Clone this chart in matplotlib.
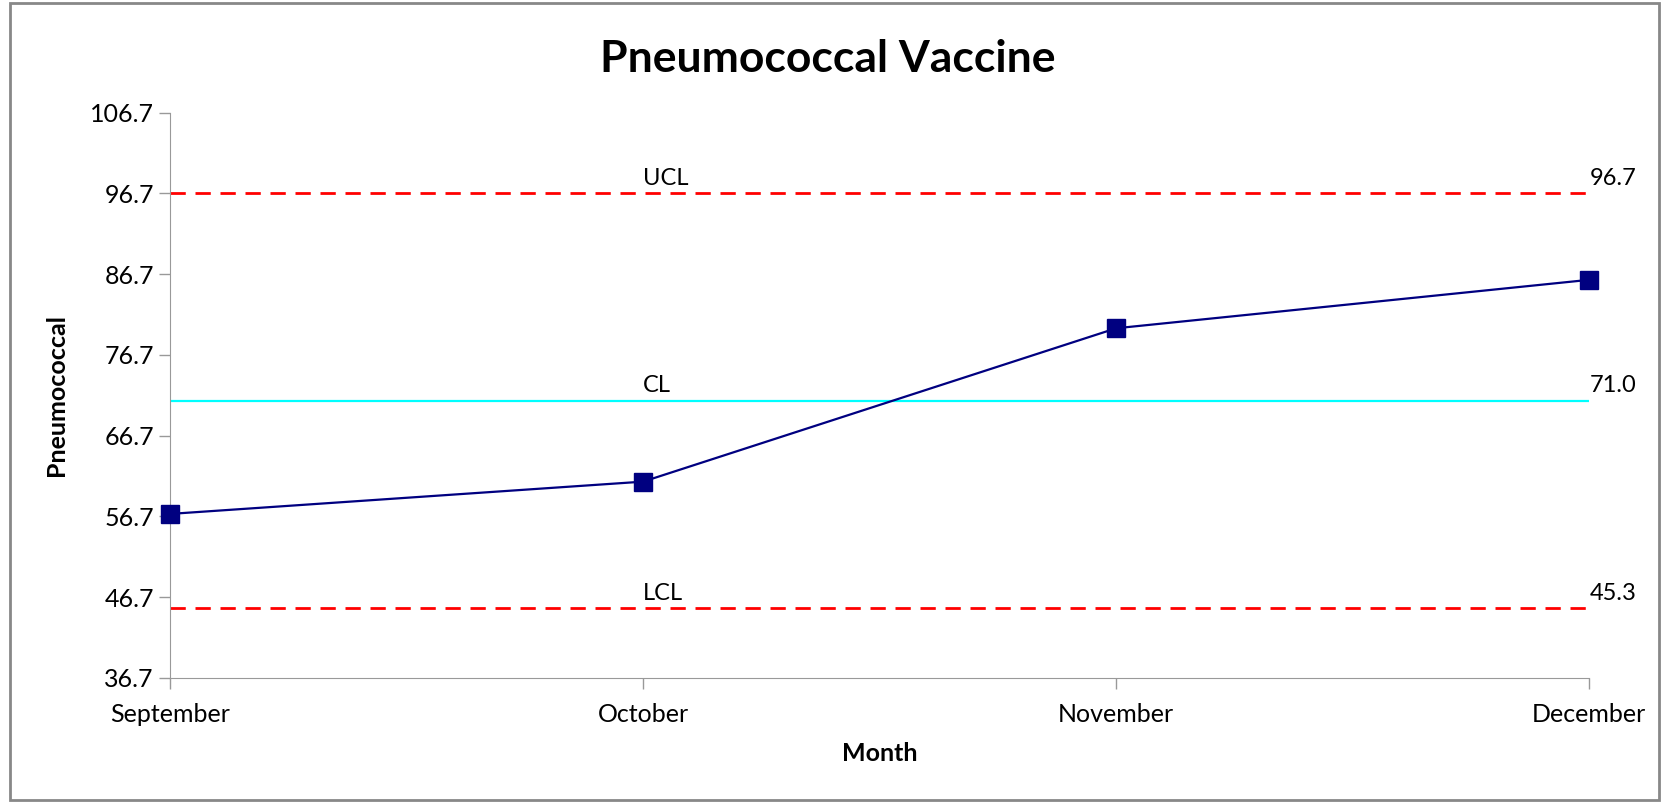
# control chart for pneumococcal vaccine

import matplotlib.pyplot as plt
from matplotlib.patches import Rectangle

months = ['September', 'October', 'November', 'December']
values = [57.0, 61.0, 80.0, 86.0]
ucl = 96.7
cl = 71.0
lcl = 45.3
y_ticks = [36.7, 46.7, 56.7, 66.7, 76.7, 86.7, 96.7, 106.7]

plt.rcParams['font.family'] = ['Lato', 'DejaVu Sans']

fig = plt.figure(figsize=(16.66, 8.05), dpi=100)
ax = fig.add_axes([0.102, 0.158, 0.852, 0.702])

x = list(range(len(months)))

# limit lines
ax.axhline(ucl, color='#ff0000', lw=2, dashes=(5.5, 3.5))
ax.axhline(lcl, color='#ff0000', lw=2, dashes=(5.5, 3.5))
ax.axhline(cl, color='#00ffff', lw=1.6)

# the data
ax.plot(x, values, color='#000080', lw=1.6, marker='s', markersize=13,
        zorder=3, clip_on=False)

# line labels
for name, val in [('UCL', ucl), ('CL', cl), ('LCL', lcl)]:
    ax.text(1, val + 0.6, name, fontsize=17, ha='left', va='bottom')
    ax.text(3, val + 0.6, f'{val:.1f}', fontsize=17, ha='left', va='bottom')

# axes
ax.set_xlim(0, 3)
ax.set_ylim(36.7, 106.7)
ax.set_xticks(x)
ax.set_xticklabels(months, fontsize=18)
ax.set_yticks(y_ticks)
ax.set_yticklabels([f'{t:.1f}' for t in y_ticks], fontsize=18)
ax.tick_params(colors='#999999', labelcolor='black', length=8, width=1)
ax.tick_params(axis='x', pad=10)
for side in ['top', 'right']:
    ax.spines[side].set_visible(False)
for side in ['left', 'bottom']:
    ax.spines[side].set_color('#999999')

ax.set_xlabel('Month', fontsize=18, fontweight='bold', labelpad=12)
ax.set_ylabel('Pneumococcal', fontsize=18, fontweight='bold', labelpad=16)

fig.text(0.497, 0.927, 'Pneumococcal Vaccine', fontsize=32, fontweight='bold',
         ha='center', va='center')

# outer border
fig.patches.append(Rectangle((0.006, 0.006), 0.99, 0.99, transform=fig.transFigure,
                             fill=False, edgecolor='#888888', lw=2))

fig.savefig('out.png', dpi=100)
